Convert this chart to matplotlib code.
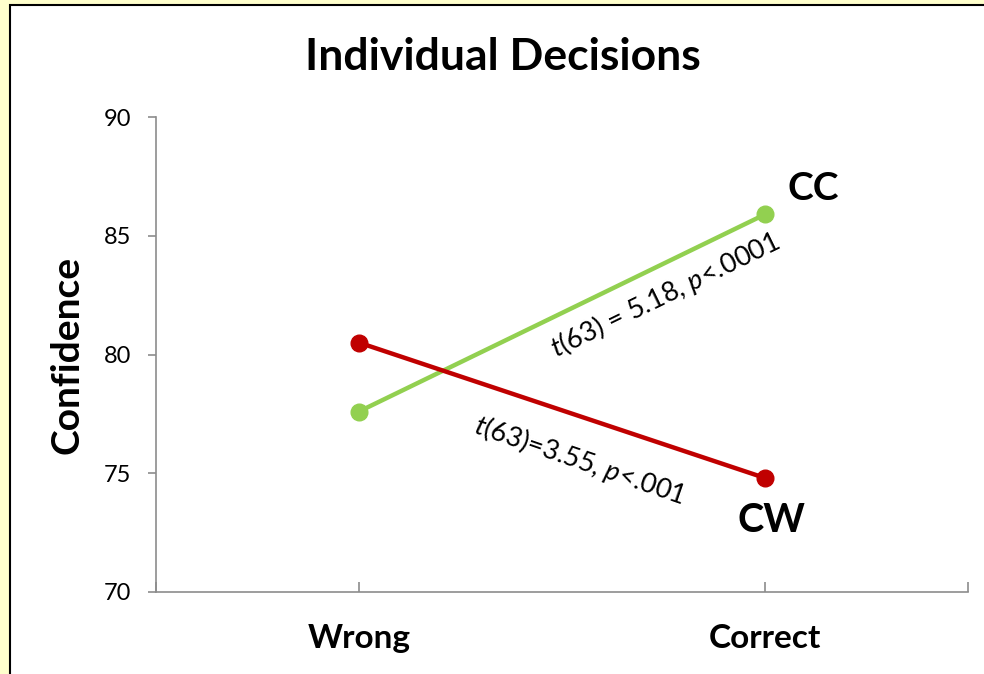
import matplotlib.pyplot as plt
from matplotlib.patches import Rectangle

plt.rcParams['font.family'] = ['Lato', 'DejaVu Sans']
plt.rcParams['mathtext.fontset'] = 'custom'
plt.rcParams['mathtext.it'] = 'Lato:italic'
plt.rcParams['mathtext.rm'] = 'Lato'

# data
categories = ['Wrong', 'Correct']
cc_values = [77.6, 85.9]
cw_values = [80.5, 74.8]
yticks = [70, 75, 80, 85, 90]

green = '#92D050'
red = '#C00000'
axis_gray = '#8C8C8C'

fig = plt.figure(figsize=(9.84, 6.74), dpi=100)
fig.patch.set_facecolor('#FFFFCC')

# white panel with black border
W, H = 984, 674
fig.patches.append(Rectangle((10 / W, -0.1), 1.0, 1 - 5 / H + 0.1,
                             transform=fig.transFigure, facecolor='white',
                             edgecolor='black', linewidth=1.5, zorder=-5))

ax = fig.add_axes([156 / W, 1 - 592 / H, (968 - 156) / W, (592 - 117) / H])
ax.set_facecolor('none')

x = list(range(len(categories)))
ax.plot(x, cc_values, color=green, linewidth=3.2, marker='o', markersize=12,
        solid_capstyle='round')
ax.plot(x, cw_values, color=red, linewidth=3.2, marker='o', markersize=12,
        solid_capstyle='round')

ax.set_xlim(-0.5, 1.5)
ax.set_ylim(70, 90)
ax.set_yticks(yticks)
ax.set_xticks(x)
ax.set_xticklabels(categories, fontsize=24, fontweight='bold')
ax.set_xticks([-0.5, 1.5], minor=True)
ax.tick_params(axis='y', labelsize=17, length=6, color=axis_gray, width=1.2, pad=12)
ax.tick_params(axis='x', which='both', direction='in', length=7, color=axis_gray,
               width=1.2, pad=23)

for s in ['top', 'right']:
    ax.spines[s].set_visible(False)
for s in ['left', 'bottom']:
    ax.spines[s].set_color(axis_gray)
    ax.spines[s].set_linewidth(1.2)

ax.set_ylabel('Confidence', fontsize=28, fontweight='bold', labelpad=14)

fig.text(503 / W, 1 - 57 / H, 'Individual Decisions', fontsize=32,
         fontweight='bold', ha='center', va='center')

ax.text(0.754, 82.5, r'$t$(63) = 5.18, $p$<.0001', fontsize=19.5, rotation=26,
        rotation_mode='anchor', ha='center', va='center')
ax.text(0.544, 75.56, r'$t$(63)=3.55, $p$<.001', fontsize=19.5, rotation=-19,
        rotation_mode='anchor', ha='center', va='center')

ax.text(1.118, 87.0, 'CC', fontsize=28, fontweight='bold', ha='center', va='center')
ax.text(1.016, 73.03, 'CW', fontsize=28.5, fontweight='bold', ha='center', va='center')

fig.savefig('out.png', dpi=100, facecolor=fig.get_facecolor())
